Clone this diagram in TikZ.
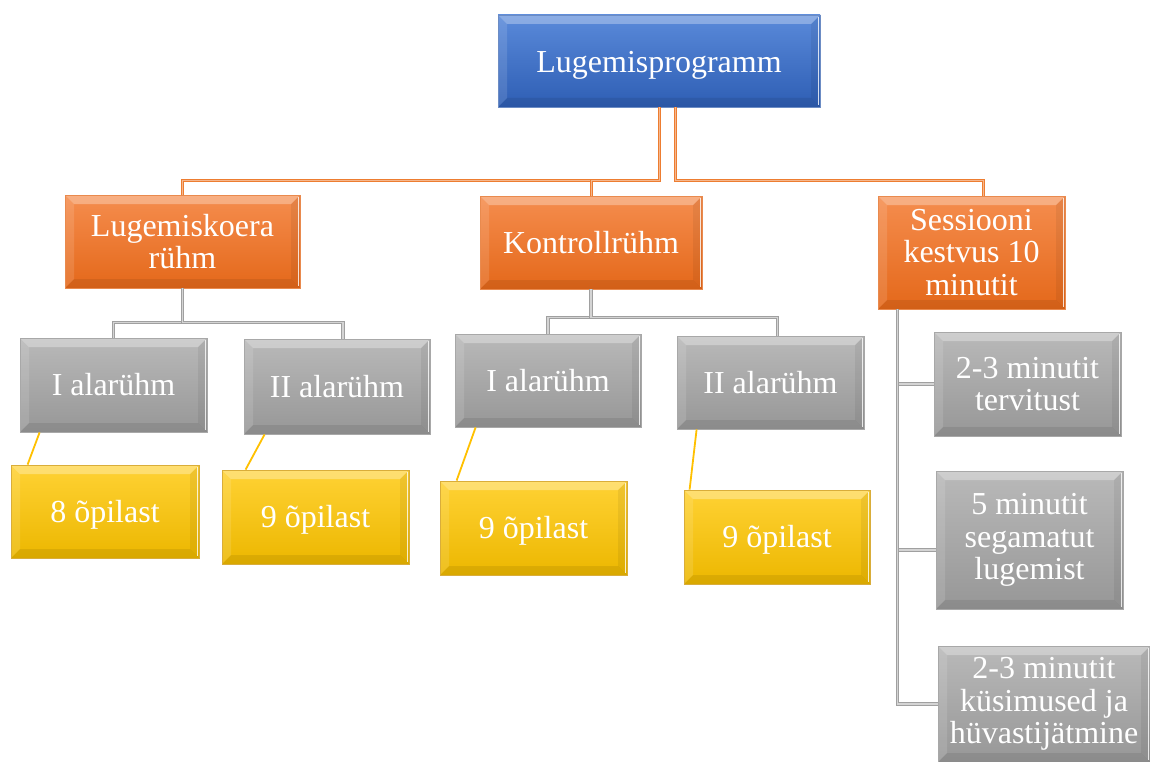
\documentclass[tikz,border=0pt]{standalone}
\usepackage{fontspec}
\setmainfont{Liberation Serif}
\definecolor{bluetop}{HTML}{5A8ADA}
\definecolor{bluebot}{HTML}{2E5EB4}
\definecolor{blueedge}{HTML}{6C8CC4}
\definecolor{ortop}{HTML}{F58D4E}
\definecolor{orbot}{HTML}{E4681A}
\definecolor{oredge}{HTML}{E98A4E}
\definecolor{grtop}{HTML}{B9B9B9}
\definecolor{grbot}{HTML}{979797}
\definecolor{gredge}{HTML}{A8A8A8}
\definecolor{yetop}{HTML}{FFD234}
\definecolor{yebot}{HTML}{ECB700}
\definecolor{yeedge}{HTML}{D9AD3A}
\definecolor{orline}{HTML}{ED7D31}
\definecolor{grline}{HTML}{A0A0A0}
\definecolor{yeline}{HTML}{FFC000}
\newcommand{\lowertext}[2]{\raisebox{-#1}[\height][\depth]{#2}}
\tikzset{
  bevel/.style={path picture={
    \fill[white,opacity=.30] (path picture bounding box.north west) -- (path picture bounding box.north east)
      -- ([shift={(-9pt,-9pt)}]path picture bounding box.north east) -- ([shift={(9pt,-9pt)}]path picture bounding box.north west) -- cycle;
    \fill[white,opacity=.12] (path picture bounding box.north west) -- ([shift={(9pt,-9pt)}]path picture bounding box.north west)
      -- ([shift={(9pt,9pt)}]path picture bounding box.south west) -- (path picture bounding box.south west) -- cycle;
    \fill[black,opacity=.08] (path picture bounding box.south west) -- ([shift={(9pt,9pt)}]path picture bounding box.south west)
      -- ([shift={(-9pt,9pt)}]path picture bounding box.south east) -- (path picture bounding box.south east) -- cycle;
    \fill[black,opacity=.06] (path picture bounding box.north east) -- ([shift={(-9pt,-9pt)}]path picture bounding box.north east)
      -- ([shift={(-9pt,9pt)}]path picture bounding box.south east) -- (path picture bounding box.south east) -- cycle;
    \draw[white,opacity=.8,line width=1.5pt] ([shift={(-1.5pt,-2pt)}]path picture bounding box.north east) -- ([shift={(-1.5pt,2pt)}]path picture bounding box.south east);
  }},
  boxbase/.style={bevel, inner sep=0pt, align=center, text=white, line width=0.8pt,
    font=\fontsize{32}{32.5}\selectfont},
  bluebox/.style={boxbase, draw=blueedge, top color=bluetop, bottom color=bluebot},
  orbox/.style={boxbase, draw=oredge, top color=ortop, bottom color=orbot},
  grbox/.style={boxbase, draw=gredge, top color=grtop, bottom color=grbot},
  yebox/.style={boxbase, draw=yeedge, top color=yetop, bottom color=yebot},
  rbox/.style={grbox, font=\fontsize{32}{32.5}\selectfont},
  oline/.style={draw=orline, line width=1.1pt, double=orline!55, double distance=0.8pt},
  gline/.style={draw=grline, line width=1.2pt, double=grline!45, double distance=1.1pt},
  yline/.style={draw=yeline, line width=1.8pt},
}
\begin{document}
\begin{tikzpicture}[x=1pt,y=-1pt]
\useasboundingbox (0,0) rectangle (1150,762);
% level 0
\node[bluebox, minimum width=322pt, minimum height=92pt] (top) at (659,61) {\lowertext{4pt}{Lugemisprogramm}};
% level 1
\node[orbox, minimum width=235pt, minimum height=93pt] (lug) at (182.5,241.5) {Lugemiskoera\\rühm};
\node[orbox, minimum width=222pt, minimum height=93pt] (kon) at (591,242.5) {Kontrollrühm};
\node[orbox, minimum width=187pt, minimum height=113pt] (ses) at (971.5,252.5) {Sessiooni\\kestvus 10\\minutit};
% level 2
\node[grbox, minimum width=187pt, minimum height=94pt] (g1) at (113.5,385) {I alarühm};
\node[grbox, minimum width=186pt, minimum height=95pt] (g2) at (337,386.5) {II alarühm};
\node[grbox, minimum width=186pt, minimum height=93pt] (g3) at (548,380.5) {I alarühm};
\node[grbox, minimum width=187pt, minimum height=93pt] (g4) at (770.5,382.5) {II alarühm};
\node[rbox, minimum width=187pt, minimum height=104pt] (r1) at (1027.5,384) {2-3 minutit\\tervitust};
\node[rbox, minimum width=187pt, minimum height=138pt] (r2) at (1029.5,540) {5 minutit\\segamatut\\lugemist};
\node[rbox, minimum width=212pt, minimum height=116pt] (r3) at (1044,704) {2-3 minutit\\küsimused ja\\hüvastijätmine};
% level 3
\node[yebox, minimum width=188pt, minimum height=93pt] (y1) at (105,511.5) {\lowertext{3pt}{8 õpilast}};
\node[yebox, minimum width=187pt, minimum height=94pt] (y2) at (315.5,517) {\lowertext{3pt}{9 õpilast}};
\node[yebox, minimum width=187pt, minimum height=94pt] (y3) at (533.5,528) {\lowertext{3pt}{9 õpilast}};
\node[yebox, minimum width=186pt, minimum height=94pt] (y4) at (777,537) {\lowertext{3pt}{9 õpilast}};
% connectors level 0 -> 1
\draw[oline] (top.south) -- ++(0,73) -| (lug.north);
\draw[oline] (top.south) -- ++(0,73) -| (kon.north);
\draw[oline] ([xshift=16pt]top.south) -- ++(0,73) -| ([xshift=12pt]ses.north);
% connectors level 1 -> 2
\draw[gline] (lug.south) -- ++(0,34) -| (g1.north);
\draw[gline] (lug.south) -- ++(0,34) -| ([xshift=6pt]g2.north);
\draw[gline] (kon.south) -- ++(0,28) -| (g3.north);
\draw[gline] (kon.south) -- ++(0,28) -| ([xshift=7pt]g4.north);
\draw[gline] ([xshift=20pt]ses.south west) |- (r1.west);
\draw[gline] ([xshift=20pt]ses.south west) |- ([yshift=-10pt]r2.west);
\draw[gline] ([xshift=20pt]ses.south west) |- (r3.west);
% connectors level 2 -> 3
\draw[yline] ([xshift=20pt]g1.south west) -- ([xshift=17pt]y1.north west);
\draw[yline] ([xshift=21pt]g2.south west) -- ([xshift=24pt]y2.north west);
\draw[yline] ([xshift=21pt]g3.south west) -- ([xshift=17pt]y3.north west);
\draw[yline] ([xshift=20pt]g4.south west) -- ([xshift=6pt]y4.north west);
\end{tikzpicture}
\end{document}
